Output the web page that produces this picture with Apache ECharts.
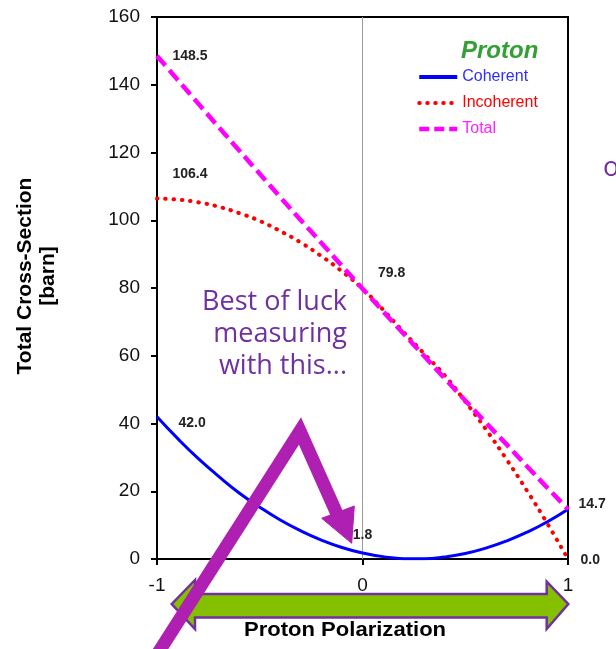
<!DOCTYPE html>
<html>
<head>
<meta charset="utf-8">
<script src="https://cdn.jsdelivr.net/npm/echarts@6/dist/echarts.min.js"></script>
<style>
html,body{margin:0;padding:0;background:#fff;}
#c{width:616px;height:649px;}
</style>
</head>
<body>
<div id="c"></div>
<script>
var polarization = [-1,-0.9,-0.8,-0.7,-0.6,-0.5,-0.4,-0.3,-0.2,-0.1,0,0.1,0.2,0.3,0.4,0.5,0.6,0.7,0.8,0.9,1];
var coherent   = [42.0,35.6,29.7,24.4,19.5,15.3,11.5,8.3,5.6,3.4,1.8,0.7,0.1,0.1,0.6,1.6,3.2,5.3,7.9,11.0,14.7];
var incoherent = [106.4,106.1,105.3,104.0,102.1,99.8,96.8,93.4,89.4,84.9,79.8,73.6,67.0,60.6,54.2,46.5,38.3,29.5,20.2,10.4,0.0];
var total      = [148.5,141.5,134.5,127.5,120.6,113.7,106.8,100.0,93.3,86.5,79.8,73.1,66.5,59.9,53.3,46.8,40.3,33.9,27.4,21.0,14.7];
var seriesNames = ['Coherent','Incoherent','Total'];
var yTicks = [0,20,40,60,80,100,120,140,160];
var xTicks = [-1,0,1];

var labelFont = {fontFamily:'Arial', fontWeight:'bold', fontSize:14, color:'#222'};

function build(vals, labels){
  return polarization.map(function(x,i){
    var item = {value:[x, vals[i]]};
    if (labels[i]) {
      item.symbol = 'circle';
      item.symbolSize = 1;
      item.label = Object.assign({show:true, formatter: vals[i].toFixed(1)}, labelFont, labels[i]);
    }
    return item;
  });
}

var chart = echarts.init(document.getElementById('c'), null, {renderer:'canvas'});
var last = polarization.length-1;
var coLabels = {}; coLabels[0] = {position:'right', distance:0, offset:[21,6]};
coLabels[10] = {position:'top', distance:10};
var inLabels = {}; inLabels[0] = {position:'right', distance:0, offset:[15,-24]};
inLabels[last] = {position:'right', distance:0, offset:[12,1]};
var toLabels = {}; toLabels[0] = {position:'right', distance:0, offset:[15,0]};
toLabels[10] = {position:'right', distance:0, offset:[15,-16]};
toLabels[last] = {position:'right', distance:0, offset:[10,-5]};

var coStyle = {color:'#0000ff', width:3, type:'solid'};
var inStyle = {color:'#ff0000', width:4, type:[0.5,7.8], cap:'round'};
var toStyle = {color:'#ff00ff', width:4.5, type:[13,6]};

chart.setOption({
  animation:false,
  backgroundColor:'#fff',
  grid:{left:157, right:48, top:17, bottom:90, show:true, borderColor:'#000', borderWidth:2, backgroundColor:'transparent'},
  legend:{
    orient:'vertical', left:417, top:69, padding:0, itemWidth:38, itemHeight:14, itemGap:10,
    itemStyle:{opacity:0},
    textStyle:{fontFamily:'Arial', fontSize:16, lineHeight:16},
    data:[
      {name:seriesNames[0], textStyle:{color:'#2f2fff'}, lineStyle:{color:'#0000ff', width:4, type:'solid'}},
      {name:seriesNames[1], textStyle:{color:'#ff0000'}, lineStyle:{color:'#ff0000', width:4, type:[0.5,7.5], cap:'round'}},
      {name:seriesNames[2], textStyle:{color:'#ff22ff'}, lineStyle:{color:'#ff00ff', width:4.5, type:[10,5]}}
    ]
  },
  xAxis:{
    type:'value', min:xTicks[0], max:xTicks[xTicks.length-1], interval:1,
    axisLine:{show:true, onZero:false, lineStyle:{color:'#000', width:2}},
    axisTick:{show:true, length:6, lineStyle:{color:'#000', width:2}},
    axisLabel:{fontFamily:'Arial', fontSize:19, color:'#111', margin:17, formatter:function(v){return String(v);}},
    splitLine:{show:false}
  },
  yAxis:{
    type:'value', min:yTicks[0], max:yTicks[yTicks.length-1], interval:20,
    axisLine:{show:true, onZero:false, lineStyle:{color:'#000', width:2}},
    axisTick:{show:true, length:6, lineStyle:{color:'#000', width:2}},
    axisLabel:{fontFamily:'Arial', fontSize:19, color:'#111', margin:17},
    splitLine:{show:false}
  },
  series:[
    {name:seriesNames[0], type:'line', data:build(coherent, coLabels), smooth:true, symbol:'none', z:3,
     lineStyle:coStyle, itemStyle:{color:'#0000ff'},
     markLine:{silent:true, symbol:'none', label:{show:false}, lineStyle:{color:'#9a9a9a', width:1, type:'solid'}, data:[{xAxis:0}], z:1}},
    {name:seriesNames[1], type:'line', data:build(incoherent, inLabels), smooth:true, symbol:'none', z:4,
     lineStyle:inStyle, itemStyle:{color:'#ff0000'}},
    {name:seriesNames[2], type:'line', data:build(total, toLabels), smooth:true, symbol:'none', z:5,
     lineStyle:toStyle, itemStyle:{color:'#ff00ff'}}
  ],
  graphic:[
    {type:'text', z:50, style:{text:'Proton', x:461, y:51, align:'left', verticalAlign:'middle',
      font:'italic bold 24px Arial', fill:'#33a033'}},
    {type:'text', z:50, x:37, y:276, rotation:Math.PI/2,
      style:{text:'Total Cross-Section\n[barn]', x:0, y:0, align:'center', verticalAlign:'middle', lineHeight:23,
      font:'bold 21px Arial', fill:'#000'}},
    {type:'text', z:50, x:345, y:630, scaleX:1.05,
      style:{text:'Proton Polarization', x:0, y:0, align:'center', verticalAlign:'middle',
      font:'bold 21px Arial', fill:'#000'}},
    {type:'text', z:50, style:{text:'Best of luck\nmeasuring\nwith this...', x:347, y:286, align:'right', verticalAlign:'top',
      lineHeight:32, font:'27px "Open Sans"', fill:'#7030a0'}},
    {type:'text', z:50, style:{text:'o', x:603, y:168, align:'left', verticalAlign:'middle',
      font:'27px "Open Sans"', fill:'#7030a0'}},
    {type:'polygon', z:60, shape:{points:[[171.7,604],[195,580],[195,594],[546.7,594],[546.7,581.7],[568.3,604],[546.7,629],[546.7,617.5],[195,617.5],[195,629]]},
      style:{fill:'#84bf00', stroke:'#7030a0', lineWidth:2.5, lineJoin:'miter'}},
    {type:'polyline', z:70, shape:{points:[[151,664],[300,431],[337,514]]},
      style:{stroke:'#ae1fb2', lineWidth:13, fill:null, lineJoin:'miter'}},
    {type:'polygon', z:70, shape:{points:[[321.7,518.3],[354.3,506],[351.7,543.3]]},
      style:{fill:'#ae1fb2', stroke:'#ae1fb2', lineWidth:1}}
  ]
});
</script>
</body>
</html>
